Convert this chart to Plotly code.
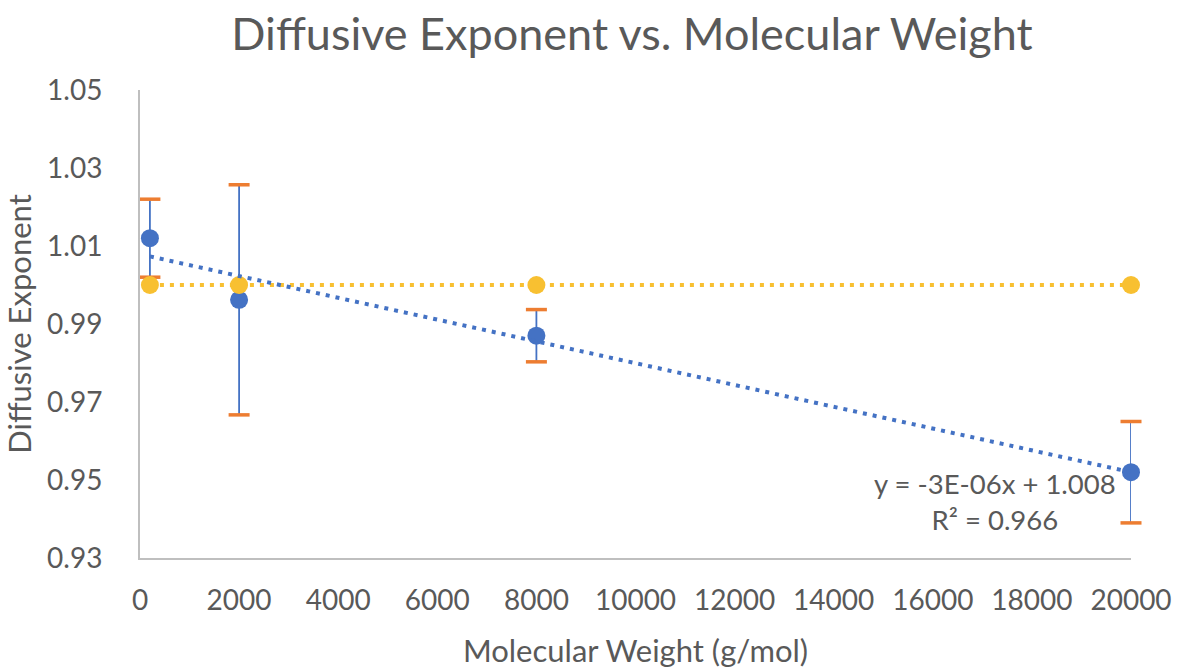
import numpy as np
import plotly.graph_objects as go

# Measured diffusive exponents for each polymer molecular weight
mol_weight = [200, 2000, 8000, 20000]
exponent = [1.012, 0.9962, 0.987, 0.952]
exponent_err = [0.010, 0.0295, 0.0067, 0.013]

# Reference line for normal diffusion (exponent = 1)
normal_exponent = [1.0, 1.0, 1.0, 1.0]

trend_label = "y = -3E-06x + 1.008<br>R² = 0.966"

x_ticks = list(range(0, 20001, 2000))
y_ticks = [0.93, 0.95, 0.97, 0.99, 1.01, 1.03, 1.05]

BLUE = "#4472C4"
ORANGE = "#ED7D31"
GOLD = "#F8C031"
TEXT = "#595959"
AXIS = "#BFBFBF"
FONT = "Lato, 'Open Sans', sans-serif"

# Least-squares linear trend through the measured points
slope, intercept = np.polyfit(mol_weight, exponent, 1)
trend_x = [min(mol_weight), max(mol_weight)]
trend_y = [slope * v + intercept for v in trend_x]

upper = [e + d for e, d in zip(exponent, exponent_err)]
lower = [e - d for e, d in zip(exponent, exponent_err)]

fig = go.Figure()

# Error bars: blue stems
fig.add_trace(go.Scatter(
    x=mol_weight, y=exponent, mode="markers",
    marker=dict(color=BLUE, size=18),
    error_y=dict(type="data", array=exponent_err, visible=True,
                 color=BLUE, thickness=1.8, width=0),
    cliponaxis=False, showlegend=False, hoverinfo="skip",
))

# Orange caps at the ends of each error bar
fig.add_trace(go.Scatter(
    x=mol_weight + mol_weight, y=upper + lower, mode="markers",
    marker=dict(symbol="line-ew", size=15,
                line=dict(color=ORANGE, width=3.5)),
    cliponaxis=False, showlegend=False, hoverinfo="skip",
))

# Normal diffusion reference (dotted gold)
fig.add_trace(go.Scatter(
    x=mol_weight, y=normal_exponent, mode="lines+markers",
    line=dict(color=GOLD, width=4, dash="4px,6px"),
    marker=dict(color=GOLD, size=18),
    cliponaxis=False, showlegend=False,
))

# Linear trendline (dotted blue)
fig.add_trace(go.Scatter(
    x=trend_x, y=trend_y, mode="lines",
    line=dict(color=BLUE, width=4, dash="4px,6px"),
    cliponaxis=False, showlegend=False, hoverinfo="skip",
))

fig.add_annotation(
    x=(995 - 140) / 991 * 20000, y=0.9445, xref="x", yref="y",
    text=trend_label, showarrow=False, align="center",
    font=dict(family=FONT, size=27.5, color=TEXT),
)

fig.update_layout(
    width=1177, height=669,
    margin=dict(l=140, r=46, t=90, b=111, autoexpand=False),
    paper_bgcolor="white", plot_bgcolor="white",
    font=dict(family=FONT, color=TEXT),
    title=dict(
        text="Diffusive Exponent vs. Molecular Weight",
        x=632 / 1177, xanchor="center", y=1 - 34 / 669, yanchor="middle",
        font=dict(family=FONT, size=45, color=TEXT),
    ),
)

fig.update_xaxes(
    range=[0, 20000], tickvals=x_ticks, ticktext=[str(v) for v in x_ticks],
    showgrid=False, zeroline=False, showline=True, linecolor=AXIS, linewidth=2,
    automargin=False,
    ticks="", tickfont=dict(family=FONT, size=28, color=TEXT), ticklabelstandoff=16,
    title=dict(text="Molecular Weight (g/mol)", standoff=26,
               font=dict(family=FONT, size=31, color=TEXT)),
)
fig.update_yaxes(
    range=[0.93, 1.05], tickvals=y_ticks, ticktext=[f"{v:.2f}" for v in y_ticks],
    showgrid=False, zeroline=False, showline=True, linecolor=AXIS, linewidth=2,
    automargin=False,
    ticks="", tickfont=dict(family=FONT, size=28, color=TEXT), ticklabelstandoff=30,
    title=dict(text="Diffusive Exponent", standoff=14,
               font=dict(family=FONT, size=31, color=TEXT)),
)

fig.write_html("out.html")
